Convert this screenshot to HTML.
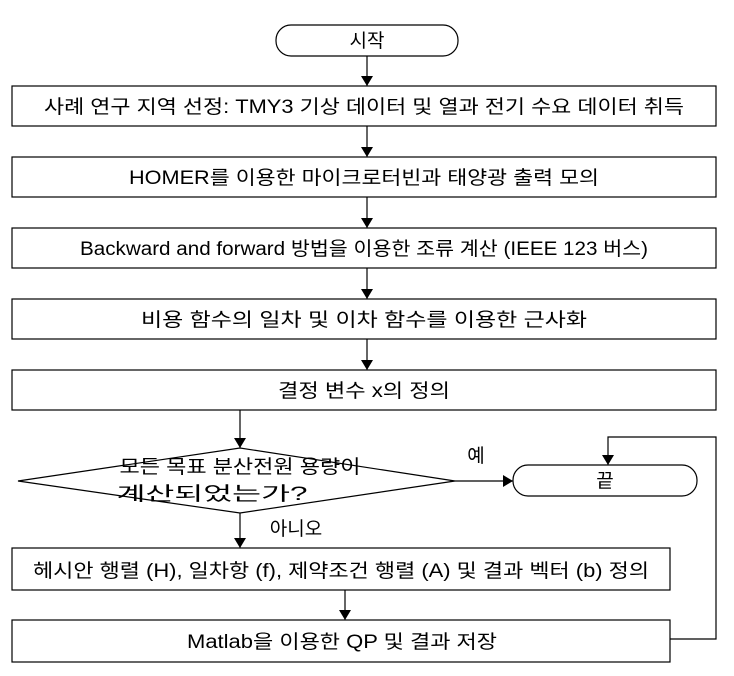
<!DOCTYPE html>
<html><head><meta charset="utf-8"><style>
html,body{margin:0;padding:0;background:#fff;}
svg{display:block;}
text{font-family:"Liberation Sans","Noto Sans CJK KR",sans-serif;font-size:19px;fill:#000;}
</style></head><body>
<svg width="734" height="676" viewBox="0 0 734 676" xmlns="http://www.w3.org/2000/svg">
<defs><marker id="a" markerWidth="10" markerHeight="12" refX="10" refY="6" orient="auto" markerUnits="userSpaceOnUse"><path d="M0,0 L10,6 L0,12 Z" fill="#000"/></marker></defs>
<g fill="none" stroke="#000" stroke-width="1.2">
<rect x="276" y="25" width="182" height="31" rx="15"/>
<rect x="12" y="86" width="704" height="40"/>
<rect x="12" y="157" width="704" height="40"/>
<rect x="12" y="228" width="704" height="40"/>
<rect x="12" y="299" width="704" height="40"/>
<rect x="12" y="370" width="704" height="40"/>
<polygon points="18,481 240,448 455,481 240,513"/>
<rect x="513" y="465" width="184" height="31" rx="15"/>
<rect x="12" y="548" width="658" height="42"/>
<rect x="12" y="620" width="658" height="42"/>
<line x1="367" y1="56" x2="367" y2="86" marker-end="url(#a)"/>
<line x1="367" y1="126" x2="367" y2="157" marker-end="url(#a)"/>
<line x1="367" y1="197" x2="367" y2="228" marker-end="url(#a)"/>
<line x1="367" y1="268" x2="367" y2="299" marker-end="url(#a)"/>
<line x1="367" y1="339" x2="367" y2="370" marker-end="url(#a)"/>
<line x1="240" y1="410" x2="240" y2="448" marker-end="url(#a)"/>
<line x1="455" y1="481" x2="513" y2="481" marker-end="url(#a)"/>
<line x1="240" y1="513" x2="240" y2="548" marker-end="url(#a)"/>
<line x1="345" y1="590" x2="345" y2="620" marker-end="url(#a)"/>
<polyline points="670,639 716,639 716,437 608,437 608,465" marker-end="url(#a)"/>
</g>
<g text-anchor="middle">
<text x="367" y="47">시작</text>
<text x="364" y="113" textLength="640" lengthAdjust="spacingAndGlyphs">사례 연구 지역 선정: TMY3 기상 데이터 및 열과 전기 수요 데이터 취득</text>
<text x="364" y="184" textLength="470" lengthAdjust="spacingAndGlyphs">HOMER를 이용한 마이크로터빈과 태양광 출력 모의</text>
<text x="364" y="255" textLength="568" lengthAdjust="spacingAndGlyphs">Backward and forward 방법을 이용한 조류 계산 (IEEE 123 버스)</text>
<text x="364" y="326" textLength="446" lengthAdjust="spacingAndGlyphs">비용 함수의 일차 및 이차 함수를 이용한 근사화</text>
<text x="364" y="397" textLength="172" lengthAdjust="spacingAndGlyphs">결정 변수 x의 정의</text>
<text x="240" y="473" textLength="241" lengthAdjust="spacingAndGlyphs">모든 목표 분산전원 용량이</text>
<text x="212" y="500" textLength="191" lengthAdjust="spacingAndGlyphs">계산되었는가?</text>
<text x="605" y="487">끝</text>
<text x="476" y="462">예</text>
<text x="296" y="535">아니오</text>
<text x="341" y="577" textLength="616" lengthAdjust="spacingAndGlyphs">헤시안 행렬 (H), 일차항 (f), 제약조건 행렬 (A) 및 결과 벡터 (b) 정의</text>
<text x="342" y="648" textLength="310" lengthAdjust="spacingAndGlyphs">Matlab을 이용한 QP 및 결과 저장</text>
</g>
</svg>
</body></html>
